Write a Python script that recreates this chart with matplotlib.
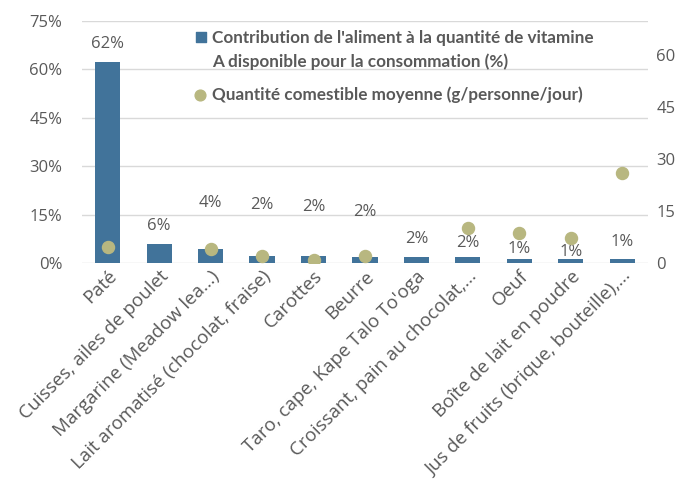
import matplotlib.pyplot as plt
import matplotlib.transforms as mtransforms
import numpy as np

plt.rcParams['font.family'] = ['Open Sans', 'DejaVu Sans']

aliments = ['Paté', 'Cuisses, ailes de poulet', 'Margarine (Meadow lea...)',
            'Lait aromatisé (chocolat, fraise)', 'Carottes', 'Beurre',
            "Taro, cape, Kape Talo To'oga", 'Croissant, pain au chocolat,...',
            'Oeuf', 'Boîte de lait en poudre', 'Jus de fruits (brique, bouteille),...']
contribution = [62.1, 5.9, 4.3, 2.2, 2.1, 1.95, 1.75, 1.7, 1.35, 1.2, 1.1]
quantite = [4.7, np.nan, 3.9, 2.0, 0.9, 2.0, np.nan, 10.2, 8.7, 7.1, 25.9]
# hauteur des etiquettes (en %), placees a la main comme dans l'original
label_y = [67.9, 11.4, 18.5, 17.9, 17.3, 15.8, 7.4, 6.2, 4.3, 3.4, 6.5]

bleu = '#41739A'
kaki = '#B8B780'
gris = '#595959'

fig = plt.figure(figsize=(6.86, 4.87), dpi=100)
ax = fig.add_axes([0.1195, 0.46, 0.825, 0.4975])
ax2 = ax.twinx()

x = np.arange(len(aliments))
ax.bar(x, contribution, width=0.49, color=bleu, zorder=2)
for i, v in enumerate(contribution):
    ax.text(i, label_y[i], f'{round(v)}%', ha='center', va='center', fontsize=12, color=gris)

ax2.scatter(x, quantite, s=75, color=kaki, zorder=3)

ax.set_ylim(0, 75)
ax.set_yticks([0, 15, 30, 45, 60, 75])
ax.set_yticklabels([f'{t}%' for t in [0, 15, 30, 45, 60, 75]])
ax2.set_ylim(0, 70)
ax2.set_yticks([0, 15, 30, 45, 60])
ax.set_xlim(-0.5, len(aliments) - 0.5)
ax.set_xticks(x)
ax.set_xticklabels(aliments, rotation=45, ha='right', va='top', rotation_mode='anchor')
decal = mtransforms.ScaledTranslation(5 / 100, 0, fig.dpi_scale_trans)
for lab in ax.get_xticklabels():
    lab.set_transform(lab.get_transform() + decal)

ax.grid(axis='y', color='#D9D9D9', linewidth=1, zorder=0)
ax.set_axisbelow(True)
for a in (ax, ax2):
    for s in a.spines.values():
        s.set_visible(False)
ax.tick_params(axis='y', length=0, pad=14, labelsize=12, labelcolor=gris)
ax.tick_params(axis='x', length=0, pad=3, labelsize=13.5, labelcolor=gris)
ax2.tick_params(axis='y', length=0, pad=6, labelsize=12, labelcolor=gris)
ax.set_zorder(ax2.get_zorder() - 1)
ax.patch.set_visible(False)

# legende dessinee a la main (carre aligne sur la 1re ligne comme dans Excel)
leg_font = dict(family=['Lato', 'DejaVu Sans'], weight='bold', size=12.3, color=gris,
                transform=ax.transAxes, va='center', ha='left')
ax.scatter([0.210], [0.933], marker='s', s=60, color=bleu, transform=ax.transAxes, clip_on=False)
ax.text(0.2297, 0.929, "Contribution de l'aliment à la quantité de vitamine", **leg_font)
ax.text(0.2297, 0.830, 'A disponible pour la consommation (%)', **leg_font)
ax2.scatter([0.208], [0.693], s=60, color=kaki, transform=ax.transAxes, clip_on=False)
ax.text(0.2297, 0.693, 'Quantité comestible moyenne (g/personne/jour)', **leg_font)

fig.savefig('out.png', dpi=100)
